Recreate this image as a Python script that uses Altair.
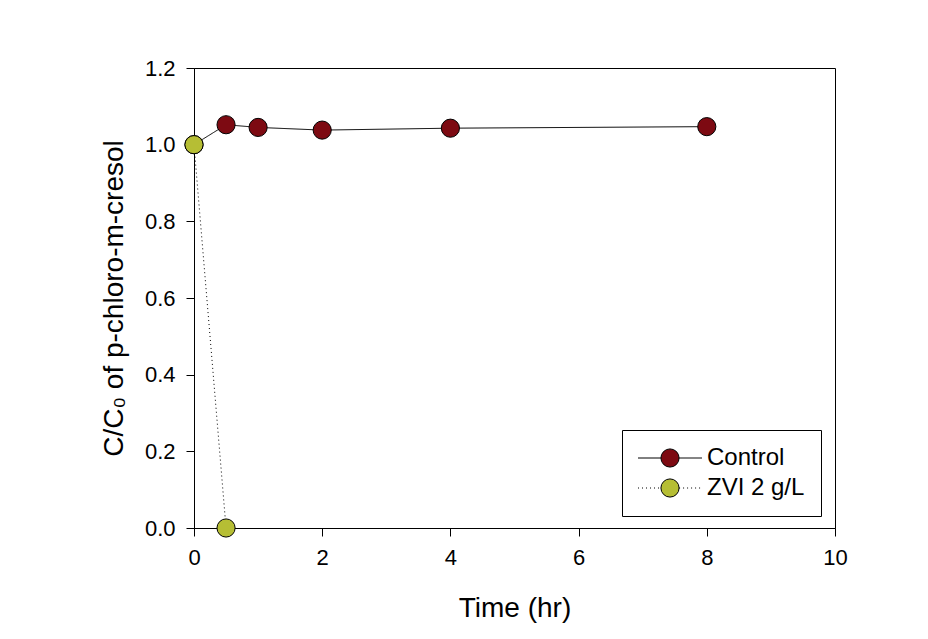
import altair as alt
import pandas as pd

# Data
control_time = [0, 0.5, 1, 2, 4, 8]
control_value = [1.0, 1.052, 1.045, 1.038, 1.043, 1.047]
zvi_time = [0, 0.5]
zvi_value = [1.0, 0.0]
series_names = ["Control", "ZVI 2 g/L"]
line_names = ["Control line", "ZVI 2 g/L line"]
series_colors = ["#7d0a12", "#b6be34"]

rows = []
for t, v in zip(control_time, control_value):
    rows.append({"time": t, "value": v, "series": series_names[0], "series_line": line_names[0]})
for t, v in zip(zvi_time, zvi_value):
    rows.append({"time": t, "value": v, "series": series_names[1], "series_line": line_names[1]})
df = pd.DataFrame(rows)

FONT = "Liberation Sans"
SYM = 330
half = (SYM ** 0.5) / 2
L = 32 / half
line_path = f"M{-L:.3f},0L-1,0M1,0L{L:.3f},0"

legend_common = dict(
    orient="none",
    legendX=428,
    legendY=362,
    title=None,
    padding=16,
    symbolOffset=20,
    labelOffset=25,
    rowPadding=6,
    labelFont=FONT,
    labelFontSize=24,
    symbolSize=SYM,
)

x = alt.X("time:Q", scale=alt.Scale(domain=[0, 10], nice=False),
          axis=alt.Axis(title="Time (hr)", values=[0, 2, 4, 6, 8, 10], format="d",
                        titleBaseline="alphabetic", titleY=88, titleX=320.5))
y = alt.Y("value:Q", scale=alt.Scale(domain=[0, 1.2], nice=False),
          axis=alt.Axis(title="C/C₀ of p-chloro-m-cresol",
                        values=[0, 0.2, 0.4, 0.6, 0.8, 1.0, 1.2], format=".1f",
                        titleBaseline="alphabetic", titleX=-72, titleY=230, titleAngle=270))

lines = alt.Chart(df).mark_line(color="black", strokeWidth=1).encode(
    x=x, y=y,
    strokeDash=alt.StrokeDash("series_line:N",
        scale=alt.Scale(domain=line_names, range=[[1, 0], [1, 3]]),
        legend=alt.Legend(symbolType=line_path, symbolStrokeColor="black",
                          symbolStrokeWidth=1, symbolFillColor="transparent",
                          labelExpr="''", **legend_common)),
)

points = alt.Chart(df).mark_point(filled=True, size=SYM, stroke="black",
                                   strokeWidth=1, opacity=1, shape="circle").encode(
    x=x, y=y,
    fill=alt.Fill("series:N",
        scale=alt.Scale(domain=series_names, range=series_colors),
        legend=alt.Legend(symbolType="circle", symbolStrokeColor="black",
                          symbolStrokeWidth=1, labelColor="black",
                          strokeColor="black", **legend_common)),
    order=alt.Order("series:N"),
)

chart = alt.layer(lines, points).properties(
    width=641, height=460,
    autosize=alt.AutoSizeParams(type="none"),
    padding={"left": 186, "top": 60, "right": 85, "bottom": 103},
).configure_view(stroke="black", strokeWidth=1).configure_axis(
    grid=False, domainColor="black", tickColor="black", tickSize=8,
    labelFont=FONT, labelFontSize=22, labelColor="black", labelPadding=11,
    labelFlush=False,
    titleFont=FONT, titleFontSize=28, titleFontWeight="normal", titleColor="black",
    domainWidth=1, tickWidth=1,
)

chart.save("out.html", embed_options={"renderer": "svg", "actions": False})
